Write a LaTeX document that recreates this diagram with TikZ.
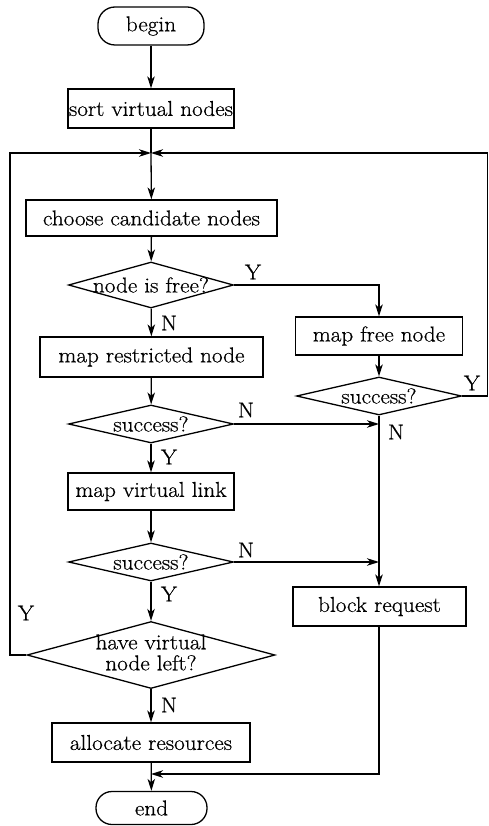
\documentclass[tikz,border=0pt]{standalone}
\usepackage{fontspec}
\setmainfont[FakeStretch=1.08, FakeBold=0.6]{Latin Modern Roman}
\usetikzlibrary{shapes.geometric,arrows.meta}
\begin{document}
\begin{tikzpicture}[x=1pt,y=-1pt,
  font=\fontsize{21.5}{24}\selectfont,
  line width=1.3pt,
  >={Stealth[length=12pt,width=7.5pt,inset=3.5pt]},
  term/.style={draw, rectangle, rounded corners=17pt, inner sep=0pt},
  proc/.style={draw, rectangle, inner sep=0pt},
  decide/.style={draw, diamond, inner sep=0pt},
  tag/.style={inner sep=0pt}]
\useasboundingbox (0,0) rectangle (489,826);

% main column
\node[term, minimum width=106pt, minimum height=38pt] (begin) at (151,26) {begin};
\node[proc, minimum width=166pt, minimum height=39pt] (sort) at (151,108.5) {sort virtual nodes};
\coordinate (j) at (151,153);
\node[proc, minimum width=251pt, minimum height=36pt] (choose) at (151.5,218) {choose candidate nodes};
\node[decide, minimum width=165pt, minimum height=46pt] (free) at (151,285) {\makebox[0pt]{node is free?}};
\node[proc, minimum width=223pt, minimum height=40pt] (restr) at (151.5,357) {map restricted node};
\node[decide, minimum width=165pt, minimum height=38pt] (succA) at (151,424) {\makebox[0pt]{success?}};
\node[proc, minimum width=166pt, minimum height=37pt] (link) at (151,491.5) {map virtual link};
\node[decide, minimum width=165pt, minimum height=38pt] (succB) at (151,562) {\makebox[0pt]{success?}};
\node[decide, minimum width=248pt, minimum height=67pt] (left) at (151,655)
  {\makebox[0pt]{\begin{tabular}{@{}c@{}}have virtual\\[-3pt]node left?\end{tabular}}};
\node[proc, minimum width=198pt, minimum height=39pt] (alloc) at (151,742.5) {allocate resources};
\coordinate (k) at (151,774);
\node[term, minimum width=111pt, minimum height=33pt, rounded corners=16pt] (end) at (151.5,808) {end};

% right column
\node[proc, minimum width=167pt, minimum height=38pt] (mapfree) at (379,336) {map free node};
\node[decide, minimum width=165pt, minimum height=38pt] (succF) at (379,396) {\makebox[0pt]{success?}};
\node[proc, minimum width=173pt, minimum height=39pt] (block) at (379.5,606.5) {block request};

% loop-back corners
\coordinate (loopL) at (10,153);
\coordinate (loopR) at (487.5,153);

% connectors
\draw[->] (begin) -- (sort);
\draw (sort) -- (j);
\draw[->] (j) -- (choose);
\draw[->] (choose) -- (free);
\draw[->] (free) -- (restr);
\draw[->] (restr) -- (succA);
\draw[->] (succA) -- (link);
\draw[->] (link) -- (succB);
\draw[->] (succB) -- (left);
\draw[->] (left) -- (alloc);
\draw[->] (alloc) -- (end);
\draw[->] (free.east) -| (mapfree.north);
\draw[->] (mapfree) -- (succF);
\draw[->] (succF.south) -- (succF.south |- block.north);
\draw[->] (succA.east) -- (succA.east -| succF.south);
\draw[->] (succB.east) -- (succB.east -| succF.south);
\draw[->] (block.south -| succF.south) |- (k);
\draw[->] (left.west) -| (loopL) -- (j);
\draw[->] (succF.east) -| (loopR) -- (j);

% branch labels
\node[tag] (yFree) at (253,272) {Y};
\node[tag] (nFree) at (169,323) {N};
\node[tag] (ySuccF) at (472,383) {Y};
\node[tag] (nSuccA) at (246,410) {N};
\node[tag] (nSuccF) at (396,432) {N};
\node[tag] (ySuccA) at (169,457) {Y};
\node[tag] (nSuccB) at (246,550) {N};
\node[tag] (ySuccB) at (169,594) {Y};
\node[tag] (yLeft) at (26,613) {Y};
\node[tag] (nLeft) at (169,705) {N};
\end{tikzpicture}
\end{document}
